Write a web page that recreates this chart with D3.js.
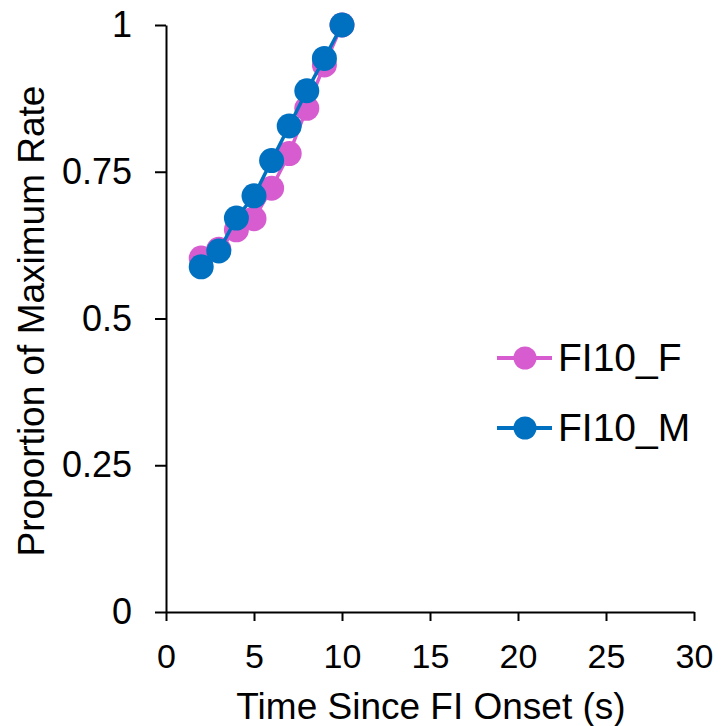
<!DOCTYPE html>
<html>
<head>
<meta charset="utf-8">
<script src="https://cdn.jsdelivr.net/npm/d3@7"></script>
<style>
  body { margin: 0; background: #fff; }
  text { font-family: "Liberation Sans", Arial, sans-serif; fill: #000; }
</style>
</head>
<body>
<div id="chart"></div>
<script>
// data
const times = [2, 3, 4, 5, 6, 7, 8, 9, 10];
const femaleVals = [0.603, 0.618, 0.651, 0.670, 0.722, 0.781, 0.858, 0.932, 1.0];
const maleVals = [0.588, 0.615, 0.671, 0.709, 0.769, 0.828, 0.888, 0.943, 1.0];
const seriesNames = ['FI10_F', 'FI10_M'];
const seriesColors = ['#D65CD0', '#0070C0'];
const xTicks = [0, 5, 10, 15, 20, 25, 30];
const yTicks = [0, 0.25, 0.5, 0.75, 1];

const width = 721, height = 726;
const margin = { top: 25, right: 27, bottom: 114, left: 166 };

const svg = d3.select('#chart').append('svg')
  .attr('width', width).attr('height', height);

const x = d3.scaleLinear().domain([0, 30]).range([margin.left, width - margin.right]);
const y = d3.scaleLinear().domain([0, 1]).range([height - margin.bottom, margin.top]);

// axes
const xAxis = svg.append('g')
  .attr('transform', `translate(0,${y(0)})`)
  .call(d3.axisBottom(x).tickValues(xTicks).tickSize(9).tickSizeOuter(0).tickPadding(23).tickFormat(d3.format('d')));
xAxis.selectAll('text').style('font-size', '34px');

const yAxis = svg.append('g')
  .attr('transform', `translate(${x(0)},0)`)
  .call(d3.axisLeft(y).tickValues(yTicks).tickSize(11).tickSizeOuter(0).tickPadding(23).tickFormat(d => String(d)));
yAxis.selectAll('text').style('font-size', '36px');

[xAxis, yAxis].forEach(g => {
  g.selectAll('path, line').attr('stroke', '#000').attr('stroke-width', 2);
  g.selectAll('text').attr('fill', '#000');
});

// axis titles
svg.append('text')
  .attr('x', 431).attr('y', 719)
  .attr('text-anchor', 'middle').style('font-size', '37px')
  .text('Time Since FI Onset (s)');

svg.append('text')
  .attr('transform', `translate(44,321) rotate(-90)`)
  .attr('text-anchor', 'middle').style('font-size', '37px')
  .text('Proportion of Maximum Rate');

// series
const series = [femaleVals, maleVals].map((vals, i) => ({
  name: seriesNames[i],
  color: seriesColors[i],
  points: times.map((t, j) => ({ t: t, v: vals[j] }))
}));

const line = d3.line().x(d => x(d.t)).y(d => y(d.v));

series.forEach(s => {
  const g = svg.append('g');
  g.append('path').datum(s.points)
    .attr('d', line).attr('fill', 'none')
    .attr('stroke', s.color).attr('stroke-width', 3.5);
  g.selectAll('circle').data(s.points).enter().append('circle')
    .attr('cx', d => x(d.t)).attr('cy', d => y(d.v))
    .attr('r', 12.5).attr('fill', s.color);
});

// legend
const legend = svg.append('g');
series.forEach((s, i) => {
  const ly = 358 + i * 70;
  legend.append('line')
    .attr('x1', 497).attr('x2', 552).attr('y1', ly).attr('y2', ly)
    .attr('stroke', s.color).attr('stroke-width', 4);
  legend.append('circle')
    .attr('cx', 525).attr('cy', ly).attr('r', 11.5).attr('fill', s.color);
  legend.append('text')
    .attr('x', 558).attr('y', ly + 13)
    .style('font-size', '39px')
    .text(s.name);
});
</script>
</body>
</html>
